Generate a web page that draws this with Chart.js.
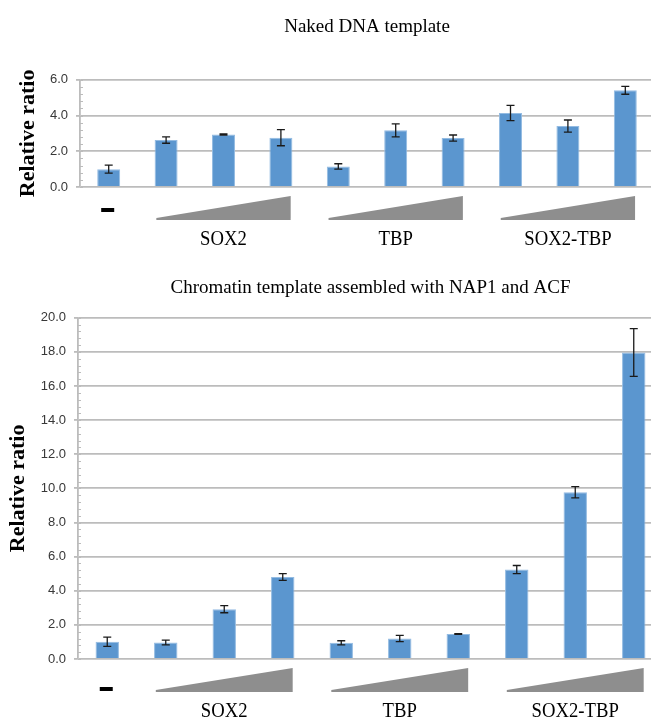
<!DOCTYPE html>
<html>
<head>
<meta charset="utf-8">
<script src="https://cdn.jsdelivr.net/npm/chart.js@4.4.1/dist/chart.umd.min.js"></script>
<style>
  html, body { margin: 0; padding: 0; background: #fff; overflow: hidden; width: 651px; height: 719px; }
  .panel { position: absolute; left: 0; }
  #top { top: 0; }
  #bottom { top: 262px; }
</style>
</head>
<body>
<div class="panel" id="top"><canvas id="naked_chart" width="660" height="262"></canvas></div>
<div class="panel" id="bottom"><canvas id="chromatin_chart" width="669" height="457"></canvas></div>
<script>
const categories = ['control', 'SOX2 low', 'SOX2 mid', 'SOX2 high', 'TBP low', 'TBP mid', 'TBP high', 'SOX2-TBP low', 'SOX2-TBP mid', 'SOX2-TBP high'];
const groupNames = ['SOX2', 'TBP', 'SOX2-TBP'];
const groupFirst = [1, 4, 7];
const groupLast = [3, 6, 9];

const nakedValues = [1.0, 2.63, 2.94, 2.76, 1.15, 3.17, 2.74, 4.14, 3.41, 5.41];
const nakedErrors = [0.22, 0.18, 0.03, 0.45, 0.15, 0.36, 0.17, 0.43, 0.34, 0.22];
const nakedTicks = [0, 2, 4, 6];

const chromatinValues = [1.01, 0.97, 2.92, 4.81, 0.95, 1.2, 1.46, 5.24, 9.77, 17.97];
const chromatinErrors = [0.27, 0.14, 0.21, 0.2, 0.12, 0.18, 0.02, 0.24, 0.33, 1.4];
const chromatinTicks = [0, 2, 4, 6, 8, 10, 12, 14, 16, 18, 20];

const BAR_BLUE = '#5b96cf';
const GRID_GREY = '#bcbcbc';

// error bars, minor ticks, wedges and group names under the axis
const groupMarks = {
	id: 'groupMarks',
	afterDatasetsDraw(chart) {
		const ctx = chart.ctx;
		const y = chart.scales.y;
		chart.data.datasets.forEach((ds, di) => {
			chart.getDatasetMeta(di).data.forEach((bar, i) => {
				const hi = y.getPixelForValue(ds.data[i] + ds.errors[i]);
				const lo = y.getPixelForValue(ds.data[i] - ds.errors[i]);
				ctx.save();
				ctx.strokeStyle = '#1a1a1a';
				ctx.lineWidth = 1.3;
				ctx.beginPath();
				ctx.moveTo(bar.x, hi); ctx.lineTo(bar.x, lo);
				ctx.moveTo(bar.x - 4, hi); ctx.lineTo(bar.x + 4, hi);
				ctx.moveTo(bar.x - 4, lo); ctx.lineTo(bar.x + 4, lo);
				ctx.stroke();
				ctx.restore();
			});
		});
	},
	afterDraw(chart, args, opts) {
		const ctx = chart.ctx;
		const x = chart.scales.x;
		const y = chart.scales.y;
		const base = y.getPixelForValue(0);
		const step = x.getPixelForValue(1) - x.getPixelForValue(0);

		// minor ticks
		const major = y.ticks.length > 1 ? y.ticks[1].value - y.ticks[0].value : 2;
		ctx.save();
		ctx.strokeStyle = GRID_GREY;
		ctx.lineWidth = 1;
		ctx.beginPath();
		for (let v = y.min; v <= y.max + 1e-9; v += major / 5) {
			const py = Math.round(y.getPixelForValue(v)) + 0.5;
			ctx.moveTo(chart.chartArea.left, py);
			ctx.lineTo(chart.chartArea.left + 3, py);
		}
		ctx.stroke();
		ctx.restore();

		// control dash
		const cx = x.getPixelForValue(0) - 1;
		ctx.save();
		ctx.fillStyle = '#000';
		ctx.fillRect(cx - 6.5, base + opts.dashOffset - 2, 13, 4);
		ctx.restore();

		groupNames.forEach((name, g) => {
			const mid = (x.getPixelForValue(groupFirst[g]) + x.getPixelForValue(groupLast[g])) / 2;
			const half = step * 1.17;
			ctx.save();
			ctx.fillStyle = '#8e8e8e';
			ctx.beginPath();
			ctx.moveTo(mid - half, base + 33);
			ctx.lineTo(mid + half, base + 33);
			ctx.lineTo(mid + half, base + 9);
			ctx.lineTo(mid - half, base + 31);
			ctx.closePath();
			ctx.fill();
			ctx.restore();

			ctx.save();
			ctx.translate(mid, base + 52);
			ctx.scale(0.85, 1);
			ctx.fillStyle = '#000';
			ctx.font = '22px "Liberation Serif", "Times New Roman", serif';
			ctx.textAlign = 'center';
			ctx.textBaseline = 'middle';
			ctx.fillText(name, 0, 0);
			ctx.restore();
		});
	}
};

function buildChart(canvasId, titleText, values, errors, ticks, sizes) {
	const ctx = document.getElementById(canvasId).getContext('2d');
	return new Chart(ctx, {
		type: 'bar',
		data: {
			labels: categories,
			datasets: [{
				data: values,
				errors: errors,
				backgroundColor: BAR_BLUE,
				borderColor: '#93bbe2',
				borderWidth: 1,
				barPercentage: 0.4,
				categoryPercentage: 1.0
			}]
		},
		options: {
			responsive: false,
			animation: false,
			events: [],
			layout: { padding: { left: 0, right: 6, top: 0, bottom: 0 } },
			plugins: {
				legend: { display: false },
				tooltip: { enabled: false },
				title: {
					display: true,
					text: titleText,
					fullSize: false,
					color: '#000',
					font: { family: '"Liberation Serif", "Times New Roman", serif', size: 19, weight: 'normal' },
					padding: { top: sizes.titleTop, bottom: sizes.titleBottom }
				},
				groupMarks: { dashOffset: sizes.dashOffset }
			},
			scales: {
				x: {
					grid: { display: false },
					border: { display: false },
					ticks: { display: false },
					afterFit: s => { s.height = sizes.xHeight; }
				},
				y: {
					min: ticks[0],
					max: ticks[ticks.length - 1],
					afterBuildTicks: s => { s.ticks = ticks.map(v => ({ value: v })); },
					afterFit: s => { s.width = sizes.yWidth; },
					grid: { color: GRID_GREY, lineWidth: 1.8, tickLength: 4 },
					border: { color: GRID_GREY, width: 1.8 },
					ticks: {
						padding: 8,
						color: '#383838',
						font: { family: '"Liberation Sans", Arial, sans-serif', size: 13 },
						callback: v => Number(v).toFixed(1)
					},
					title: {
						display: true,
						text: 'Relative ratio',
						color: '#000',
						font: { family: '"Liberation Serif", "Times New Roman", serif', size: 22, weight: 'bold' },
						padding: { top: sizes.yTitlePad, bottom: 0 }
					}
				}
			}
		},
		plugins: [groupMarks]
	});
}

buildChart('naked_chart', 'Naked DNA template', nakedValues, nakedErrors, nakedTicks,
	{ titleTop: 16, titleBottom: 41, xHeight: 75, yWidth: 80, yTitlePad: 15, dashOffset: 23 });
buildChart('chromatin_chart', 'Chromatin template assembled with NAP1 and ACF', chromatinValues, chromatinErrors, chromatinTicks,
	{ titleTop: 15, titleBottom: 18, xHeight: 60, yWidth: 78, yTitlePad: 5, dashOffset: 30 });
</script>
</body>
</html>
